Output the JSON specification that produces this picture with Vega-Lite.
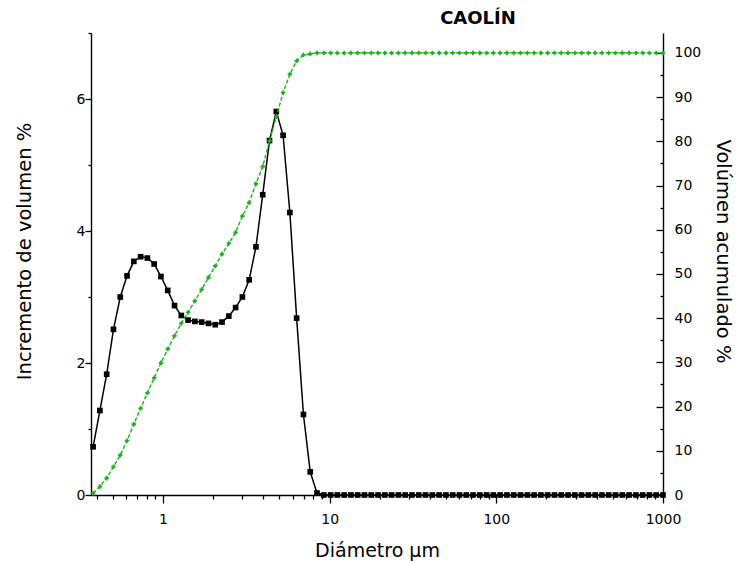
{
  "$schema": "https://vega.github.io/schema/vega-lite/v6.json",
  "width": 572,
  "height": 462,
  "autosize": "none",
  "padding": {"left": 91, "top": 33, "right": 75, "bottom": 68},
  "background": "white",
  "config": {
    "view": {"stroke": null},
    "font": "DejaVu Sans",
    "axis": {
      "grid": false,
      "domainColor": "black",
      "domainWidth": 1.4,
      "tickColor": "black",
      "tickWidth": 1.3,
      "labelColor": "black",
      "titleColor": "black",
      "labelFont": "DejaVu Sans",
      "titleFont": "DejaVu Sans",
      "labelFontSize": 14,
      "titleFontWeight": "normal"
    }
  },
  "title": {
    "text": "CAOLÍN",
    "anchor": "middle",
    "dx": 101,
    "offset": 4,
    "font": "DejaVu Sans",
    "fontSize": 18,
    "fontWeight": "bold",
    "color": "black"
  },
  "data": {
    "values": [
      {"d": 0.3809, "inc": 0.73, "cum": 0.4},
      {"d": 0.4183, "inc": 1.28, "cum": 1.9},
      {"d": 0.4595, "inc": 1.83, "cum": 3.8},
      {"d": 0.5047, "inc": 2.51, "cum": 6.4},
      {"d": 0.5543, "inc": 3.0, "cum": 9.0},
      {"d": 0.6088, "inc": 3.32, "cum": 12.3},
      {"d": 0.6686, "inc": 3.54, "cum": 16.0},
      {"d": 0.7343, "inc": 3.61, "cum": 19.6},
      {"d": 0.8065, "inc": 3.59, "cum": 23.1},
      {"d": 0.8857, "inc": 3.5, "cum": 26.5},
      {"d": 0.9725, "inc": 3.31, "cum": 29.9},
      {"d": 1.068, "inc": 3.1, "cum": 33.0},
      {"d": 1.173, "inc": 2.87, "cum": 36.0},
      {"d": 1.288, "inc": 2.72, "cum": 38.8},
      {"d": 1.415, "inc": 2.65, "cum": 41.3},
      {"d": 1.554, "inc": 2.63, "cum": 43.9},
      {"d": 1.707, "inc": 2.62, "cum": 46.5},
      {"d": 1.875, "inc": 2.6, "cum": 49.2},
      {"d": 2.059, "inc": 2.58, "cum": 51.8},
      {"d": 2.261, "inc": 2.62, "cum": 54.5},
      {"d": 2.483, "inc": 2.71, "cum": 56.9},
      {"d": 2.727, "inc": 2.84, "cum": 59.4},
      {"d": 2.995, "inc": 3.0, "cum": 63.1},
      {"d": 3.289, "inc": 3.26, "cum": 66.1},
      {"d": 3.613, "inc": 3.76, "cum": 70.4},
      {"d": 3.967, "inc": 4.55, "cum": 74.3},
      {"d": 4.357, "inc": 5.37, "cum": 80.1},
      {"d": 4.786, "inc": 5.81, "cum": 85.6},
      {"d": 5.256, "inc": 5.45, "cum": 91.0},
      {"d": 5.772, "inc": 4.28, "cum": 95.2},
      {"d": 6.339, "inc": 2.68, "cum": 98.2},
      {"d": 6.962, "inc": 1.22, "cum": 99.5},
      {"d": 7.646, "inc": 0.35, "cum": 99.8},
      {"d": 8.397, "inc": 0.03, "cum": 100},
      {"d": 9.222, "inc": 0, "cum": 100},
      {"d": 10.13, "inc": 0, "cum": 100},
      {"d": 11.12, "inc": 0, "cum": 100},
      {"d": 12.22, "inc": 0, "cum": 100},
      {"d": 13.42, "inc": 0, "cum": 100},
      {"d": 14.73, "inc": 0, "cum": 100},
      {"d": 16.18, "inc": 0, "cum": 100},
      {"d": 17.77, "inc": 0, "cum": 100},
      {"d": 19.52, "inc": 0, "cum": 100},
      {"d": 21.44, "inc": 0, "cum": 100},
      {"d": 23.54, "inc": 0, "cum": 100},
      {"d": 25.86, "inc": 0, "cum": 100},
      {"d": 28.4, "inc": 0, "cum": 100},
      {"d": 31.19, "inc": 0, "cum": 100},
      {"d": 34.25, "inc": 0, "cum": 100},
      {"d": 37.62, "inc": 0, "cum": 100},
      {"d": 41.31, "inc": 0, "cum": 100},
      {"d": 45.37, "inc": 0, "cum": 100},
      {"d": 49.83, "inc": 0, "cum": 100},
      {"d": 54.73, "inc": 0, "cum": 100},
      {"d": 60.1, "inc": 0, "cum": 100},
      {"d": 66.01, "inc": 0, "cum": 100},
      {"d": 72.5, "inc": 0, "cum": 100},
      {"d": 79.62, "inc": 0, "cum": 100},
      {"d": 87.45, "inc": 0, "cum": 100},
      {"d": 96.03, "inc": 0, "cum": 100},
      {"d": 105.5, "inc": 0, "cum": 100},
      {"d": 115.8, "inc": 0, "cum": 100},
      {"d": 127.2, "inc": 0, "cum": 100},
      {"d": 139.7, "inc": 0, "cum": 100},
      {"d": 153.5, "inc": 0, "cum": 100},
      {"d": 168.5, "inc": 0, "cum": 100},
      {"d": 185.1, "inc": 0, "cum": 100},
      {"d": 203.2, "inc": 0, "cum": 100},
      {"d": 223.3, "inc": 0, "cum": 100},
      {"d": 245.2, "inc": 0, "cum": 100},
      {"d": 269.3, "inc": 0, "cum": 100},
      {"d": 295.7, "inc": 0, "cum": 100},
      {"d": 324.8, "inc": 0, "cum": 100},
      {"d": 356.7, "inc": 0, "cum": 100},
      {"d": 391.7, "inc": 0, "cum": 100},
      {"d": 430.2, "inc": 0, "cum": 100},
      {"d": 472.5, "inc": 0, "cum": 100},
      {"d": 518.9, "inc": 0, "cum": 100},
      {"d": 569.9, "inc": 0, "cum": 100},
      {"d": 625.9, "inc": 0, "cum": 100},
      {"d": 687.4, "inc": 0, "cum": 100},
      {"d": 754.9, "inc": 0, "cum": 100},
      {"d": 829.0, "inc": 0, "cum": 100},
      {"d": 910.5, "inc": 0, "cum": 100},
      {"d": 1000, "inc": 0, "cum": 100}
    ]
  },
  "encoding": {
    "x": {
      "field": "d",
      "type": "quantitative",
      "scale": {"type": "log", "domain": [0.37, 1000], "nice": false},
      "axis": {
        "title": "Diámetro µm",
        "titleFontSize": 19,
        "titlePadding": 15,
        "values": [0.4, 0.5, 0.6, 0.7, 0.8, 0.9, 1, 2, 3, 4, 5, 6, 7, 8, 9, 10, 20, 30, 40, 50, 60, 70, 80, 90, 100, 200, 300, 400, 500, 600, 700, 800, 900, 1000],
        "labelExpr": "(datum.value == 1 || datum.value == 10 || datum.value == 100 || datum.value == 1000) ? format(datum.value, 'd') : ''",
        "tickSize": {"condition": {"test": "datum.value == 1 || datum.value == 10 || datum.value == 100 || datum.value == 1000", "value": 8}, "value": 4},
        "labelPadding": 9,
        "labelFlush": false,
        "labelOverlap": false
      }
    }
  },
  "layer": [
    {
      "encoding": {
        "y": {
          "field": "inc",
          "type": "quantitative",
          "scale": {"domain": [0, 7], "nice": false},
          "axis": {
            "orient": "left",
            "title": "Incremento de volumen %",
            "titleFontSize": 19.5,
            "titlePadding": 42,
            "titleY": 218,
            "values": [0, 1, 2, 3, 4, 5, 6, 7],
            "labelExpr": "datum.value % 2 == 0 ? datum.label : ''",
            "tickSize": {"condition": {"test": "datum.value % 2 == 0", "value": 6}, "value": 3},
            "labelPadding": 0
          }
        }
      },
      "layer": [
        {"mark": {"type": "line", "color": "black", "strokeWidth": 1.5}},
        {"mark": {"type": "point", "shape": "square", "filled": true, "color": "black", "size": 32, "opacity": 1}}
      ]
    },
    {
      "encoding": {
        "y": {
          "field": "cum",
          "type": "quantitative",
          "scale": {"domain": [0, 104.5], "nice": false},
          "axis": {
            "orient": "right",
            "title": "Volúmen acumulado %",
            "titleFontSize": 19.5,
            "titlePadding": 12,
            "titleY": 218,
            "values": [0, 5, 10, 15, 20, 25, 30, 35, 40, 45, 50, 55, 60, 65, 70, 75, 80, 85, 90, 95, 100],
            "labelExpr": "datum.value % 10 == 0 ? datum.label : ''",
            "tickSize": {"condition": {"test": "datum.value % 10 == 0", "value": -7}, "value": -3},
            "labelPadding": 18
          }
        }
      },
      "layer": [
        {"mark": {"type": "line", "color": "#1fb01f", "strokeWidth": 1.4, "strokeDash": [4, 2]}},
        {"mark": {"type": "point", "shape": "cross", "filled": true, "color": "#1fb01f", "size": 20, "opacity": 1}}
      ]
    }
  ],
  "resolve": {"scale": {"y": "independent"}}
}
